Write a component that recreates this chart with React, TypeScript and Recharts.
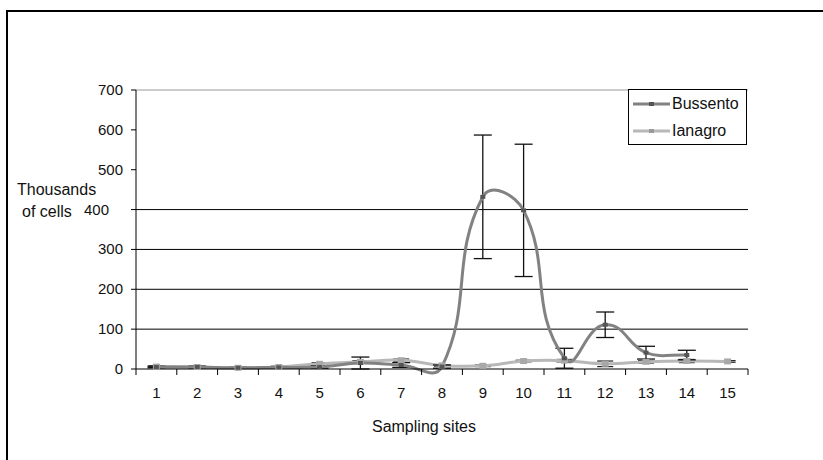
import React from "react";
import { LineChart, Line, XAxis, YAxis, ErrorBar, ReferenceLine, Legend, Label } from "recharts";

const sites = [1, 2, 3, 4, 5, 6, 7, 8, 9, 10, 11, 12, 13, 14, 15];
const bussento = [5, 5, 3, 4, 5, 15, 10, 6, 432, 398, 27, 111, 41, 35, null];
const bussentoErr = [2, 2, 1, 2, 3, 15, 6, 4, 155, 166, 25, 32, 16, 12, null];
const ianagro = [6, 5, 3, 5, 13, 18, 22, 9, 8, 20, 21, 13, 18, 20, 19];
const ianagroErr = [2, 2, 1, 2, 3, 3, 3, 2, 2, 2, 3, 7, 3, 4, 2];
const yTicks = [0, 100, 200, 300, 400, 500, 600, 700];
const gridValues = [100, 200, 300, 400];

const data = sites.map((s, i) => ({
  site: s,
  Bussento: bussento[i],
  bErr: bussentoErr[i],
  Ianagro: ianagro[i],
  iErr: ianagroErr[i],
}));

// tick marks sit on the category boundaries, labels in between
const xTicks = [...sites.map((s) => s - 0.5), sites[sites.length - 1] + 0.5, ...sites];

const FONT = "'Liberation Sans', Arial, sans-serif";

// excel style smoothed line (bezier, tangent scaled by segment length)
const K = 0.4;
function excelSmooth(context: any) {
  let pts: number[][] = [];
  return {
    areaStart() {},
    areaEnd() {},
    lineStart() {
      pts = [];
    },
    point(x: number, y: number) {
      pts.push([+x, +y]);
    },
    lineEnd() {
      const n = pts.length;
      if (!n) return;
      context.moveTo(pts[0][0], pts[0][1]);
      if (n === 1) return;
      const tan = pts.map((_, i) => {
        const a = pts[Math.max(i - 1, 0)];
        const b = pts[Math.min(i + 1, n - 1)];
        const dx = b[0] - a[0];
        const dy = b[1] - a[1];
        const l = Math.hypot(dx, dy) || 1;
        return [dx / l, dy / l];
      });
      for (let i = 0; i < n - 1; i++) {
        const p = pts[i];
        const q = pts[i + 1];
        const d = Math.hypot(q[0] - p[0], q[1] - p[1]) * K;
        context.bezierCurveTo(
          p[0] + tan[i][0] * d,
          p[1] + tan[i][1] * d,
          q[0] - tan[i + 1][0] * d,
          q[1] - tan[i + 1][1] * d,
          q[0],
          q[1]
        );
      }
    },
  };
}

const XTick = (props: any) => {
  const { x, y, payload } = props;
  if (Number.isInteger(payload.value)) {
    return (
      <text x={x} y={y + 29} textAnchor="middle" fontSize={15} fontFamily={FONT} fill="#111">
        {payload.value}
      </text>
    );
  }
  return <line x1={x} x2={x} y1={y} y2={y + 6} stroke="#000" strokeWidth={1} />;
};

const YTick = (props: any) => {
  const { x, y, payload } = props;
  // the 400 label is pushed left in the original
  const shift = payload.value === 400 ? 14 : 0;
  return (
    <text x={x - shift} y={y} dy={5} textAnchor="end" fontSize={15} fontFamily={FONT} fill="#111">
      {payload.value}
    </text>
  );
};

const squareDot = (w: number, h: number, fill: string) => (p: any) => {
  if (p.cx == null || p.cy == null || p.value == null) return <g key={p.index} />;
  return <rect key={p.index} x={p.cx - w / 2} y={p.cy - h / 2} width={w} height={h} fill={fill} />;
};

const renderLegend = (props: any) => {
  const { payload } = props;
  return (
    <div
      style={{
        border: "1px solid #000",
        background: "#fff",
        width: 117,
        fontFamily: FONT,
        fontSize: 16,
        color: "#111",
      }}
    >
      {payload.map((item: any) => (
        <div key={item.value} style={{ display: "flex", alignItems: "center", height: 27 }}>
          <svg width={37} height={8} style={{ marginLeft: 4, marginRight: 2 }}>
            <line x1={0} x2={37} y1={4} y2={4} stroke={item.color} strokeWidth={3} />
            <rect x={16} y={2} width={5} height={4} fill={item.value === "Bussento" ? "#555" : "#999"} />
          </svg>
          <span>{item.value}</span>
        </div>
      ))}
    </div>
  );
};

export default function App() {
  return (
    <div style={{ position: "absolute", left: 0, top: 0, width: 823, height: 460, background: "#fff" }}>
      <div
        style={{
          position: "absolute",
          left: 6,
          top: 10,
          width: 830,
          height: 460,
          borderTop: "2px solid #000",
          borderLeft: "2px solid #000",
        }}
      />
      <div style={{ position: "absolute", left: 0, top: 0 }}>
        <LineChart width={823} height={460} data={data} margin={{ top: 90, right: 75, bottom: 61, left: 76 }}>
          {gridValues.map((v) => (
            <ReferenceLine key={v} y={v} stroke="#000" strokeWidth={1} ifOverflow="hidden" />
          ))}
          <ReferenceLine y={700} stroke="#999" strokeWidth={1} />
          <XAxis
            dataKey="site"
            type="number"
            domain={[0.5, 15.5]}
            ticks={xTicks}
            interval={0}
            tickLine={false}
            tickSize={0}
            tickMargin={0}
            tick={<XTick />}
            axisLine={{ stroke: "#000" }}
            height={30}
            allowDecimals
          >
            <Label
              content={({ viewBox }: any) => (
                <text
                  x={viewBox.x + viewBox.width / 2 - 18}
                  y={viewBox.y + viewBox.height + 33}
                  textAnchor="middle"
                  fontSize={16}
                  fontFamily={FONT}
                  fill="#111"
                >
                  Sampling sites
                </text>
              )}
            />
          </XAxis>
          <YAxis
            domain={[0, 700]}
            ticks={yTicks}
            interval={0}
            width={60}
            tickSize={5}
            tickMargin={8}
            tick={<YTick />}
            axisLine={{ stroke: "#000" }}
            tickLine={{ stroke: "#000" }}
          >
            <Label
              content={({ viewBox }: any) => (
                <g fontSize={16} fontFamily={FONT} fill="#111">
                  <text x={viewBox.x - 59} y={viewBox.y + 105}>
                    Thousands
                  </text>
                  <text x={viewBox.x - 54} y={viewBox.y + 127}>
                    of cells
                  </text>
                </g>
              )}
            />
          </YAxis>
          <Legend
            layout="vertical"
            align="center"
            verticalAlign="middle"
            wrapperStyle={{ left: 628, top: 89 }}
            content={renderLegend}
          />
          <Line
            dataKey="Ianagro"
            type={excelSmooth as any}
            stroke="#b8b8b8"
            strokeWidth={3}
            dot={squareDot(7, 6, "#a8a8a8")}
            activeDot={false}
            isAnimationActive={false}
          >
            <ErrorBar dataKey="iErr" width={8} stroke="#222" strokeWidth={1.2} direction="y" />
          </Line>
          <Line
            dataKey="Bussento"
            type={excelSmooth as any}
            stroke="#828282"
            strokeWidth={3}
            dot={squareDot(5, 4, "#555")}
            activeDot={false}
            isAnimationActive={false}
          >
            <ErrorBar dataKey="bErr" width={9} stroke="#111" strokeWidth={1.3} direction="y" />
          </Line>
        </LineChart>
      </div>
    </div>
  );
}
